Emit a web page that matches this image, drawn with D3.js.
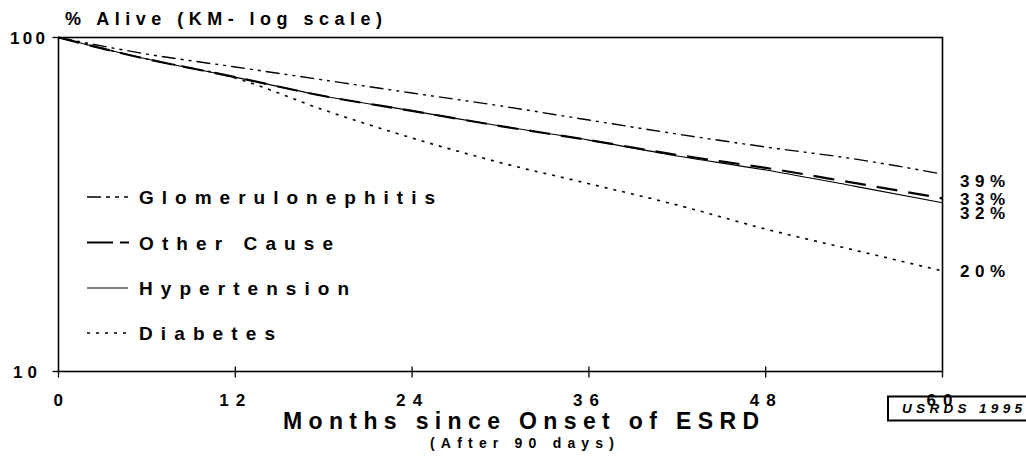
<!DOCTYPE html>
<html>
<head>
<meta charset="utf-8">
<script src="https://cdn.jsdelivr.net/npm/d3@7"></script>
<style>
  html, body { margin: 0; padding: 0; background: #fff; }
  svg { display: block; font-family: "Liberation Sans", Arial, sans-serif; }
  text { font-weight: bold; fill: #000; }
</style>
</head>
<body>
<svg id="chart" width="1026" height="456"></svg>
<script>
// ---- data ----
const months = [0, 6, 12, 18, 24, 30, 36, 42, 48, 54, 60];
const glomerulonephritis = [100, 89.2, 81.6, 74.6, 68.2, 62.4, 56.6, 51.4, 47.0, 43.3, 39];
const otherCause        = [100, 86.2, 76.1, 66.8, 60.3, 54.3, 49.3, 44.5, 40.7, 36.7, 33];
const hypertension      = [100, 86.2, 76.1, 66.8, 60.3, 54.3, 49.3, 44.2, 40.1, 35.9, 32];
const diabetes          = [100, 86.2, 75.6, 60.7, 50.0, 42.2, 36.5, 31.5, 26.7, 23.1, 20];
const seriesNames = ["Glomerulonephitis", "Other Cause", "Hypertension", "Diabetes"];
const endLabels = ["39%", "33%", "32%", "20%"];
const xTicks = [0, 12, 24, 36, 48, 60];
const yTicks = [10, 100];

// ---- layout ----
const svg = d3.select("#chart");
const x = d3.scaleLinear().domain([0, 60]).range([58.5, 942.5]);
const y = d3.scaleLog().domain([10, 100]).range([371.5, 37.5]);

const styles = [
  { dash: "14,5,3,5,3,5", width: 1.4, legendDash: "14,5,4,5,4,5" },
  { dash: "21,11", width: 2.2, legendDash: "26,7,9,5" },
  { dash: null, width: 1.1, legendDash: null },
  { dash: "3,6", width: 1.6, legendDash: "3,6" }
];
const allSeries = [glomerulonephritis, otherCause, hypertension, diabetes];

// frame
svg.append("rect")
  .attr("x", x(0)).attr("y", y(100))
  .attr("width", x(60) - x(0)).attr("height", y(10) - y(100))
  .attr("fill", "none").attr("stroke", "#000").attr("stroke-width", 1.6);

// x ticks (cross marks)
svg.append("g").selectAll("line").data(xTicks).join("line")
  .attr("x1", d => x(d)).attr("x2", d => x(d))
  .attr("y1", d => (d === 0 || d === 60) ? y(10) : y(10) - 5)
  .attr("y2", y(10) + 6)
  .attr("stroke", "#000").attr("stroke-width", 1.3);
// y ticks
svg.append("g").selectAll("line").data(yTicks).join("line")
  .attr("x1", x(0) - 6).attr("x2", x(0))
  .attr("y1", d => y(d)).attr("y2", d => y(d))
  .attr("stroke", "#000").attr("stroke-width", 1.3);

// lines
const line = d3.line()
  .x((d, i) => x(months[i]))
  .y(d => y(d))
  .curve(d3.curveMonotoneX);

allSeries.forEach((s, i) => {
  svg.append("path")
    .datum(s)
    .attr("d", line)
    .attr("fill", "none")
    .attr("stroke", "#000")
    .attr("stroke-width", styles[i].width)
    .attr("stroke-dasharray", styles[i].dash);
});

// title
svg.append("text")
  .attr("x", 65).attr("y", 25)
  .attr("font-size", 18)
  .attr("textLength", 317).attr("lengthAdjust", "spacing")
  .text("% Alive (KM- log scale)");

// y tick labels
svg.append("text").attr("x", 10).attr("y", y(100) + 6)
  .attr("font-size", 17).attr("textLength", 35).attr("lengthAdjust", "spacing").text("100");
svg.append("text").attr("x", 13).attr("y", y(10) + 6)
  .attr("font-size", 17).attr("textLength", 24).attr("lengthAdjust", "spacing").text("10");

// x tick labels
svg.append("g").selectAll("text").data(xTicks).join("text")
  .attr("x", d => x(d) - (d < 10 ? 5 : 16))
  .attr("y", 406)
  .attr("font-size", 17)
  .attr("textLength", d => d < 10 ? 10 : 26)
  .attr("lengthAdjust", "spacing")
  .text(d => d);

// axis titles
svg.append("text").attr("x", 283).attr("y", 429)
  .attr("font-size", 23).attr("textLength", 476).attr("lengthAdjust", "spacing")
  .text("Months since Onset of ESRD");
svg.append("text").attr("x", 430).attr("y", 448)
  .attr("font-size", 14).attr("textLength", 184).attr("lengthAdjust", "spacing")
  .text("(After 90 days)");

// legend
const legendY = [197, 242.5, 288, 333];
const legendW = [296, 194, 210, 136];
seriesNames.forEach((name, i) => {
  svg.append("line")
    .attr("x1", 87).attr("x2", i === 1 ? 129 : 128)
    .attr("y1", legendY[i]).attr("y2", legendY[i])
    .attr("stroke", "#000")
    .attr("stroke-width", i === 2 ? 1.1 : (i === 1 ? 2.2 : 1.6))
    .attr("stroke-dasharray", styles[i].legendDash);
  svg.append("text")
    .attr("x", 139).attr("y", legendY[i] + 7)
    .attr("font-size", 19)
    .attr("textLength", legendW[i]).attr("lengthAdjust", "spacing")
    .text(name);
});

// end labels
const endOffsets = [7, 1, 10, 0];
allSeries.forEach((s, i) => {
  svg.append("text")
    .attr("x", 960)
    .attr("y", y(s[s.length - 1]) + endOffsets[i] + 6)
    .attr("font-size", 17)
    .attr("textLength", 45).attr("lengthAdjust", "spacing")
    .text(endLabels[i]);
});

// USRDS box
svg.append("rect")
  .attr("x", 888).attr("y", 396.5).attr("width", 145).attr("height", 24)
  .attr("fill", "none").attr("stroke", "#000").attr("stroke-width", 2);
svg.append("text")
  .attr("x", 902).attr("y", 413)
  .attr("font-size", 13.5).attr("font-style", "italic")
  .attr("textLength", 120).attr("lengthAdjust", "spacing")
  .text("USRDS 1995");
</script>
</body>
</html>
